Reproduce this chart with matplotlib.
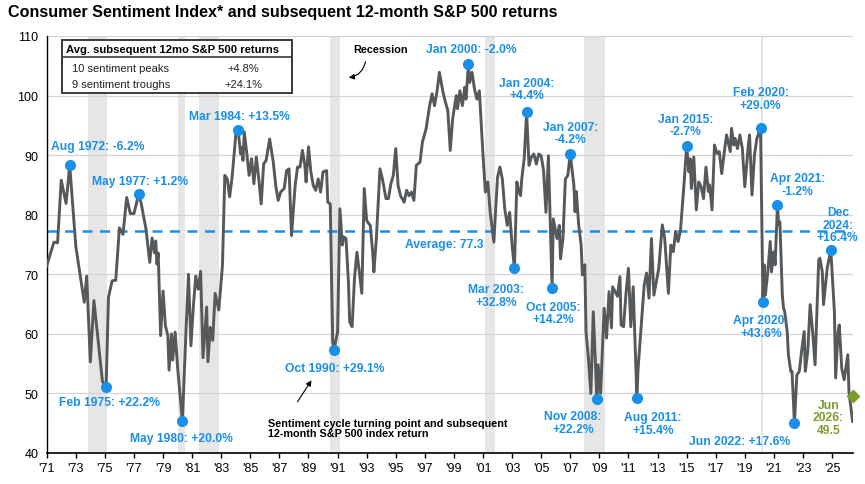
import pandas as pd
import matplotlib
matplotlib.use("Agg")
import matplotlib.pyplot as plt
from matplotlib.transforms import Affine2D

plt.rcParams['font.family'] = ['Liberation Sans', 'DejaVu Sans']

# consumer sentiment (roughly every other month)
dates = [
    "1971-01", "1971-07", "1971-10", "1972-01", "1972-05", "1972-08", "1973-01", "1973-08",
    "1973-10", "1974-01", "1974-04", "1974-11", "1975-02", "1975-04", "1975-07", "1975-10",
    "1976-01", "1976-04", "1976-07", "1976-10", "1977-01", "1977-05", "1977-07", "1977-11",
    "1978-02", "1978-04", "1978-06", "1978-07", "1978-08", "1978-09", "1978-11", "1979-01",
    "1979-03", "1979-05", "1979-06", "1979-08", "1979-09", "1979-11", "1980-01", "1980-05",
    "1980-08", "1980-10", "1980-12", "1981-02", "1981-04", "1981-06", "1981-08", "1981-10",
    "1982-01", "1982-02", "1982-04", "1982-06", "1982-08", "1982-11", "1983-02", "1983-04",
    "1983-06", "1983-08", "1983-10", "1984-01", "1984-03", "1984-05", "1984-06", "1984-07",
    "1984-08", "1984-10", "1984-12", "1985-02", "1985-04", "1985-06", "1985-08", "1985-10",
    "1985-12", "1986-02", "1986-05", "1986-08", "1986-10", "1986-12", "1987-02", "1987-05",
    "1987-07", "1987-09", "1987-11", "1988-02", "1988-04", "1988-06", "1988-08", "1988-10",
    "1988-11", "1989-01", "1989-03", "1989-05", "1989-07", "1989-09", "1989-11", "1990-01",
    "1990-04", "1990-05", "1990-07", "1990-09", "1990-10", "1991-01", "1991-03", "1991-05",
    "1991-06", "1991-08", "1991-10", "1991-11", "1992-01", "1992-03", "1992-05", "1992-07",
    "1992-09", "1992-11", "1993-01", "1993-04", "1993-06", "1993-07", "1993-09", "1993-12",
    "1994-02", "1994-05", "1994-07", "1994-09", "1994-11", "1995-01", "1995-03", "1995-05",
    "1995-08", "1995-10", "1995-12", "1996-02", "1996-04", "1996-06", "1996-09", "1996-11",
    "1997-02", "1997-05", "1997-07", "1997-09", "1997-11", "1998-01", "1998-04", "1998-06",
    "1998-08", "1998-10", "1998-12", "1999-03", "1999-04", "1999-06", "1999-08", "1999-10",
    "1999-11", "2000-01", "2000-02", "2000-04", "2000-06", "2000-08", "2000-10", "2001-01",
    "2001-03", "2001-05", "2001-07", "2001-10", "2001-11", "2002-01", "2002-03", "2002-05",
    "2002-07", "2002-09", "2002-11", "2003-01", "2003-03", "2003-05", "2003-06", "2003-08",
    "2003-09", "2003-11", "2004-01", "2004-03", "2004-05", "2004-07", "2004-09", "2004-11",
    "2005-01", "2005-03", "2005-05", "2005-07", "2005-10", "2005-11", "2006-02", "2006-04",
    "2006-05", "2006-07", "2006-09", "2006-11", "2007-01", "2007-04", "2007-05", "2007-06",
    "2007-08", "2007-10", "2007-11", "2008-01", "2008-02", "2008-04", "2008-06", "2008-08",
    "2008-11", "2008-12", "2009-02", "2009-04", "2009-05", "2009-07", "2009-09", "2009-11",
    "2009-12", "2010-02", "2010-04", "2010-06", "2010-07", "2010-09", "2010-11", "2011-01",
    "2011-03", "2011-05", "2011-08", "2011-09", "2012-02", "2012-04", "2012-06", "2012-08",
    "2012-10", "2013-02", "2013-05", "2013-07", "2013-10", "2013-12", "2014-02", "2014-04",
    "2014-06", "2014-08", "2014-11", "2015-01", "2015-03", "2015-04", "2015-05", "2015-07",
    "2015-09", "2015-11", "2016-01", "2016-03", "2016-05", "2016-07", "2016-08", "2016-10",
    "2016-12", "2017-02", "2017-04", "2017-06", "2017-08", "2017-10", "2018-01", "2018-02",
    "2018-04", "2018-05", "2018-07", "2018-09", "2018-11", "2019-01", "2019-04", "2019-05",
    "2019-07", "2019-09", "2019-11", "2020-02", "2020-04", "2020-05", "2020-06", "2020-08",
    "2020-10", "2020-11", "2021-01", "2021-02", "2021-04", "2021-05", "2021-06", "2021-08",
    "2021-09", "2021-10", "2021-12", "2022-01", "2022-03", "2022-04", "2022-06", "2022-08",
    "2022-10", "2022-12", "2023-02", "2023-03", "2023-05", "2023-07", "2023-09", "2023-11",
    "2024-02", "2024-03", "2024-05", "2024-06", "2024-09", "2024-12", "2025-03", "2025-04",
    "2025-06", "2025-07", "2025-09", "2025-11", "2026-02", "2026-03", "2026-06",
]
sentiment = [
    71.4, 75.4, 75.3, 85.8, 81.9, 88.3, 74.7, 65.3,
    69.7, 55.3, 65.6, 52.0, 51.1, 66.1, 68.9, 69.0,
    77.8, 76.7, 82.9, 80.2, 80.2, 83.5, 81.9, 77.5,
    72.0, 76.1, 73.6, 75.6, 71.7, 73.6, 59.7, 67.2,
    61.4, 59.7, 53.9, 60.0, 55.6, 60.3, 54.4, 45.3,
    60.8, 70.0, 58.0, 64.7, 69.7, 67.5, 70.5, 56.0,
    64.5, 55.3, 61.1, 58.9, 66.8, 64.0, 71.5, 86.6,
    86.0, 83.0, 86.3, 93.3, 94.3, 90.2, 91.3, 89.1,
    93.9, 90.5, 86.6, 89.4, 85.2, 89.7, 86.0, 81.8,
    88.5, 89.1, 92.7, 88.8, 84.9, 82.4, 83.8, 84.4,
    87.4, 87.7, 76.5, 84.9, 88.0, 88.0, 90.8, 88.3,
    85.5, 91.4, 87.2, 84.9, 84.1, 86.0, 83.8, 87.2,
    87.4, 82.1, 81.8, 58.7, 57.3, 60.3, 81.0, 74.9,
    76.3, 76.0, 68.7, 62.0, 61.2, 69.3, 73.7, 70.4,
    66.8, 84.4, 79.0, 78.2, 73.7, 70.4, 76.0, 87.7,
    86.0, 82.7, 82.7, 85.2, 86.6, 91.1, 84.9, 83.2,
    82.1, 84.1, 83.2, 83.8, 82.4, 88.3, 88.8, 92.2,
    94.4, 98.3, 100.3, 98.3, 100.6, 103.9, 100.6, 98.9,
    97.5, 90.8, 96.1, 100.0, 97.8, 100.8, 98.3, 101.4,
    99.4, 105.3, 102.2, 103.9, 101.1, 99.4, 100.8, 90.0,
    83.8, 85.5, 80.4, 75.4, 79.3, 86.3, 88.0, 86.0,
    81.0, 78.2, 80.4, 74.9, 71.0, 85.5, 84.4, 83.2,
    86.0, 89.4, 97.2, 88.3, 89.7, 90.2, 88.5, 90.2,
    89.9, 87.4, 80.4, 89.9, 67.7, 79.3, 76.0, 78.2,
    72.6, 76.0, 86.0, 86.6, 90.2, 85.0, 80.5, 83.9,
    78.3, 74.9, 69.9, 71.6, 60.4, 55.9, 50.0, 63.7,
    49.0, 54.8, 50.0, 59.3, 64.3, 59.3, 67.1, 61.0,
    67.9, 67.1, 66.3, 69.6, 61.5, 61.2, 66.8, 71.0,
    61.2, 67.9, 49.3, 54.2, 68.2, 70.2, 66.0, 76.0,
    66.5, 71.0, 78.3, 76.0, 66.8, 74.9, 73.8, 77.2,
    75.5, 77.4, 85.5, 91.5, 87.2, 89.4, 84.4, 89.7,
    80.8, 85.5, 84.7, 82.7, 88.0, 83.9, 85.0, 80.8,
    91.7, 90.3, 90.6, 86.9, 90.3, 93.4, 90.6, 94.5,
    91.7, 92.8, 91.1, 93.4, 91.1, 84.7, 91.7, 93.4,
    83.3, 90.0, 92.8, 94.5, 65.4, 71.6, 66.5, 70.4,
    75.5, 70.4, 73.8, 71.6, 81.7, 78.3, 78.8, 66.5,
    64.3, 63.7, 60.4, 56.5, 53.7, 53.7, 45.0, 53.1,
    53.7, 57.3, 60.4, 53.7, 57.0, 64.9, 60.4, 54.8,
    72.4, 72.7, 70.4, 64.9, 71.0, 74.1, 63.7, 52.6,
    60.4, 61.5, 54.2, 52.3, 56.5, 50.3, 45.3,
]
average = 77.3
latest_date, latest_value = "2026-06", 49.5

peak_dates = ["1972-08", "1977-05", "1984-03", "2000-01", "2004-01",
              "2007-01", "2015-01", "2020-02", "2021-04", "2024-12"]
peak_returns = [-6.2, 1.2, 13.5, -2.0, 4.4, -4.2, -2.7, 29.0, -1.2, 16.4]
trough_dates = ["1975-02", "1980-05", "1990-10", "2003-03", "2005-10",
                "2008-11", "2011-08", "2020-04", "2022-06"]
trough_returns = [22.2, 20.0, 29.1, 32.8, 14.2, 22.2, 15.4, 43.6, 17.6]

recessions = [("1973-11", "1975-03"), ("1980-01", "1980-07"), ("1981-07", "1982-11"),
              ("1990-07", "1991-03"), ("2001-03", "2001-11"), ("2007-12", "2009-06"),
              ("2020-02", "2020-04")]

# label offsets from the dot in pixels (dx right, dy up) and line break style
peak_layout = [(28, 19, " "), (1, 13, " "), (1, 14, " "), (3, 15, " "), (0, 23, "\n"),
               (0, 21, "\n"), (-1, 21, "\n"), (0, 30, "\n"), (20, 20, "\n"), (7, 25, "3")]
trough_layout = [(3, -15, " "), (-1, -17, " "), (1, -18, " "), (-18, -27, "\n"), (1, -25, "\n"),
                 (-24, -23, "\n"), (16, -26, "\n"), (-2, -25, "\n"), (-55, -18, " ")]

BLUE = "#1a8fe8"
GREEN = "#7c9c2a"
LINE = "#56595c"

s = pd.Series(sentiment, index=pd.to_datetime(dates))

fig = plt.figure(figsize=(8.65, 4.85), dpi=100)
ax = fig.add_axes([46.7 / 865, 1 - 454 / 485, 806.3 / 865, 417 / 485])
# pixel coords (from top-left) -> figure
px = Affine2D().scale(1 / 865, -1 / 485).translate(0, 1) + fig.transFigure

for a, b in recessions:
    ax.axvspan(pd.Timestamp(a), pd.Timestamp(b), color="#e6e6e6", lw=0, zorder=0)

ax.plot(s.index, s.values, color=LINE, lw=2.1, zorder=3, solid_joinstyle="round")
ax.axhline(average, color=BLUE, lw=1.8, ls=(0, (4, 3)), zorder=2)
ax.text(pd.Timestamp("1998-05"), average - 1.2, f"Average: {average}", color=BLUE,
        fontsize=8.7, fontweight="bold", ha="center", va="top")


def label(d, ret, lay, color=BLUE):
    ts = pd.Timestamp(d)
    mon, yr = ts.strftime("%b"), ts.year
    dx, dy, sep = lay
    if sep == "3":
        txt = f"{mon}\n{yr}:\n{ret:+.1f}%"
    else:
        txt = f"{mon} {yr}:{sep}{ret:+.1f}%"
    ax.annotate(txt, (ts, s[ts]), xytext=(dx * 0.72, dy * 0.72), textcoords="offset points",
                ha="center", va="center", color=color, fontsize=8.7, fontweight="bold",
                linespacing=1.05, zorder=6)


for d, r, lay in zip(peak_dates, peak_returns, peak_layout):
    label(d, r, lay)
for d, r, lay in zip(trough_dates, trough_returns, trough_layout):
    label(d, r, lay)

turns = pd.to_datetime(peak_dates + trough_dates)
ax.plot(turns, s[turns].values, "o", color=BLUE, ms=8, mec="none", zorder=5)

lt = pd.Timestamp(latest_date)
ax.plot([lt], [latest_value], "D", color=GREEN, ms=7, mec="none", zorder=6, clip_on=False)
ax.annotate(f"{lt:%b}\n{lt.year}:\n{latest_value}", (lt, latest_value), xytext=(-24 * 0.72, -21 * 0.72),
            textcoords="offset points", ha="center", va="center", color=GREEN,
            fontsize=8.7, fontweight="bold", linespacing=1.05)

ax.set_ylim(40, 110)
ax.set_xlim(pd.Timestamp("1971-01-01"), lt + pd.Timedelta(days=10))
ax.set_yticks(range(40, 111, 10))
ax.grid(axis="y", color="#d4d4d4", lw=0.9)
ax.set_axisbelow(True)
xticks = pd.date_range("1971-01-01", "2025-01-01", freq="24MS")
ax.set_xticks(xticks)
ax.set_xticklabels([f"'{t:%y}" for t in xticks])
ax.tick_params(axis="x", length=3.5, width=1, labelsize=9, pad=3, color="black")
ax.tick_params(axis="y", length=0, labelsize=9, pad=6)
for side in ["top", "right"]:
    ax.spines[side].set_visible(False)
ax.spines["left"].set_linewidth(1.0)
ax.spines["bottom"].set_linewidth(1.2)

fig.text(8, 12, "Consumer Sentiment Index* and subsequent 12-month S&P 500 returns",
         transform=px, fontsize=11.6, fontweight="bold", va="center", ha="left")

# summary table
box = plt.Rectangle((62, 94), 230, -53, transform=px, fill=True, fc="white",
                    ec="#3a3a3a", lw=1.4, zorder=10)
fig.add_artist(box)
fig.add_artist(plt.Line2D([62, 292], [58, 58], transform=px, color="#3a3a3a", lw=1.2, zorder=11))
fig.text(66, 50, "Avg. subsequent 12mo S&P 500 returns", transform=px, fontsize=8.1,
         fontweight="bold", va="center", zorder=12)
rows = [(f"{len(peak_dates)} sentiment peaks", "+4.8%"),
        (f"{len(trough_dates)} sentiment troughs", "+24.1%")]
for i, (name, val) in enumerate(rows):
    y = 69 + 16 * i
    fig.text(72, y, name, transform=px, fontsize=8, va="center", color="#222222", zorder=12)
    fig.text(243, y, val, transform=px, fontsize=8, va="center", ha="center", color="#222222", zorder=12)

fig.text(380, 50, "Recession", transform=px, fontsize=7.8, fontweight="bold", ha="center", va="center")
ax.annotate("", xy=(346, 79), xycoords=px, xytext=(366, 60), textcoords=px,
            arrowprops=dict(arrowstyle="-|>", color="black", lw=0.8, mutation_scale=8,
                            connectionstyle="arc3,rad=-0.4"))

fig.text(268, 429, "Sentiment cycle turning point and subsequent\n12-month S&P 500 index return",
         transform=px, fontsize=7.8, fontweight="bold", ha="left", va="center", linespacing=1.1)
ax.annotate("", xy=(313, 379), xycoords=px, xytext=(296, 405), textcoords=px,
            arrowprops=dict(arrowstyle="-|>", color="black", lw=0.8, mutation_scale=8))

fig.savefig("out.png", dpi=100)
